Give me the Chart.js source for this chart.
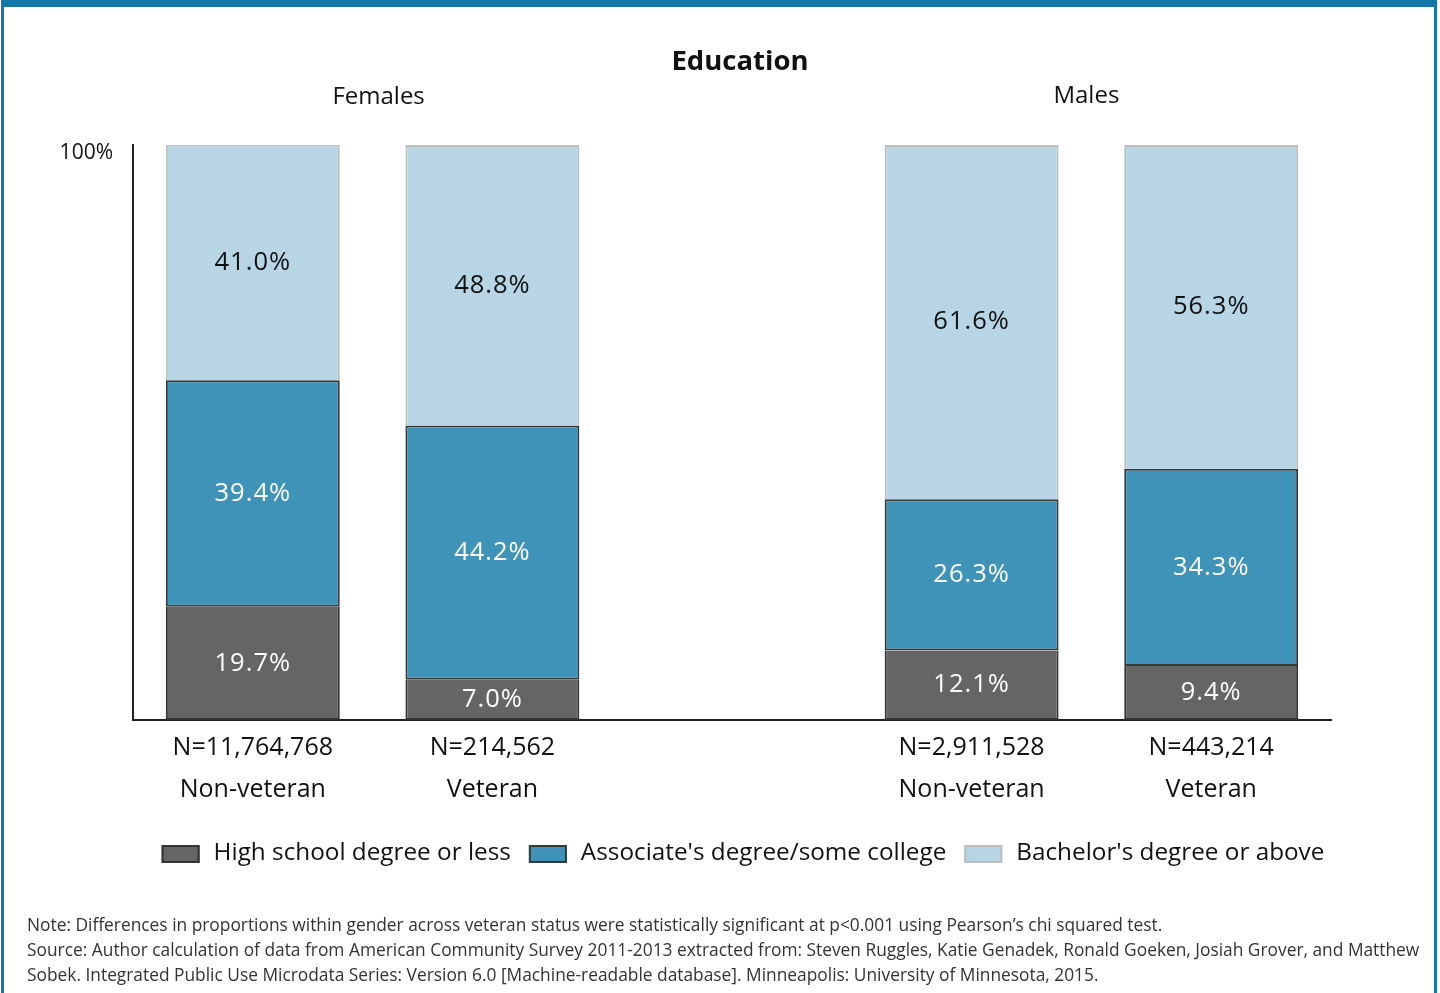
<!DOCTYPE html>
<html>
<head>
<meta charset="utf-8">
<title>Education</title>
<script src="https://cdn.jsdelivr.net/npm/chart.js@4/dist/chart.umd.min.js"></script>
<style>
  body { margin: 0; background: #fff; }
  #wrap { position: relative; width: 1440px; height: 993px; overflow: hidden; }
  #chartEducation { position: absolute; left: 0; top: 0; }
  #frame {
    position: absolute; left: 1px; top: 0; width: 1436px; height: 993px;
    border-top: 7px solid #1477aa; border-left: 3px solid #1477aa; border-right: 3px solid #1477aa;
    box-sizing: border-box; pointer-events: none;
  }
  .note { position: absolute; left: 27px; font-family: 'Open Sans', sans-serif; font-size: 17.35px; color: #333; white-space: nowrap; }
</style>
</head>
<body>
<div id="wrap">
  <canvas id="chartEducation" width="1440" height="993"></canvas>
  <div class="note" style="top:912px">Note: Differences in proportions within gender across veteran status were statistically significant at p&lt;0.001 using Pearson’s chi squared test.</div>
  <div class="note" style="top:937px">Source: Author calculation of data from American Community Survey 2011-2013 extracted from: Steven Ruggles, Katie Genadek, Ronald Goeken, Josiah Grover, and Matthew</div>
  <div class="note" style="top:962px">Sobek. Integrated Public Use Microdata Series: Version 6.0 [Machine-readable database]. Minneapolis: University of Minnesota, 2015.</div>
  <div id="frame"></div>
</div>
<script>
// categories (slot 2 is the gap between the two gender groups)
const groups = ['Females', 'Males'];
const status = ['Non-veteran', 'Veteran', '', 'Non-veteran', 'Veteran'];
const counts = ['N=11,764,768', 'N=214,562', '', 'N=2,911,528', 'N=443,214'];

// percentages by education level
const highSchool = [19.7, 7.0, null, 12.1, 9.4];
const associate = [39.4, 44.2, null, 26.3, 34.3];
const bachelor = [41.0, 48.8, null, 61.6, 56.3];

const yMax = 100;

const FONT = '"Open Sans", sans-serif';

// value labels inside each stacked segment
const segmentLabels = {
  id: 'segmentLabels',
  afterDatasetsDraw(chart) {
    const ctx = chart.ctx;
    ctx.save();
    ctx.font = '25.5px ' + FONT;
    ctx.letterSpacing = '1px';
    ctx.textAlign = 'center';
    ctx.textBaseline = 'middle';
    chart.data.datasets.forEach((ds, di) => {
      chart.getDatasetMeta(di).data.forEach((bar, i) => {
        const v = ds.data[i];
        if (v == null) return;
        ctx.fillStyle = ds.labelColor;
        ctx.fillText(v.toFixed(1) + '%', bar.x, (bar.y + bar.base) / 2);
      });
    });
    ctx.restore();
  }
};

// title, group headings and legend
const headings = {
  id: 'headings',
  afterDraw(chart) {
    const ctx = chart.ctx;
    const x = chart.scales.x;
    ctx.save();
    ctx.fillStyle = '#111';
    ctx.textAlign = 'center';
    ctx.textBaseline = 'middle';
    ctx.font = 'bold 27.5px ' + FONT;
    ctx.fillText('Education', 740, 62);

    ctx.font = '24px ' + FONT;
    ctx.fillText(groups[0], x.getPixelForValue(0.5) + 6, 97);
    ctx.fillText(groups[1], x.getPixelForValue(3.5) - 5, 96);

    // legend
    ctx.font = '24.3px ' + FONT;
    ctx.textAlign = 'left';
    const boxW = 38, boxH = 18, gap = 14, itemGap = 18;
    const items = chart.data.datasets.map(ds => ({
      ds, w: boxW + gap + ctx.measureText(ds.label).width
    }));
    const total = items.reduce((s, it) => s + it.w, 0) + itemGap * (items.length - 1);
    let lx = 743 - total / 2;
    const ly = 854;
    items.forEach(it => {
      ctx.fillStyle = it.ds.backgroundColor;
      ctx.fillRect(lx, ly - boxH / 2, boxW, boxH);
      ctx.strokeStyle = it.ds.borderColor;
      ctx.lineWidth = 2;
      ctx.strokeRect(lx + 1, ly - boxH / 2 + 1, boxW - 2, boxH - 2);
      ctx.fillStyle = '#111';
      ctx.fillText(it.ds.label, lx + boxW + gap, ly - 1);
      lx += it.w + itemGap;
    });
    ctx.restore();
  }
};

const chartEducation = document.getElementById('chartEducation');

new Chart(chartEducation, {
  type: 'bar',
  data: {
    labels: counts.map((n, i) => n ? [n, status[i]] : ''),
    datasets: [{
      label: 'High school degree or less',
      data: highSchool,
      backgroundColor: '#656565',
      borderColor: '#333333',
      borderSkipped: 'top',
      labelColor: '#ffffff'
    }, {
      label: "Associate's degree/some college",
      data: associate,
      backgroundColor: '#3f92b8',
      borderColor: '#383838',
      borderSkipped: false,
      labelColor: '#ffffff'
    }, {
      label: "Bachelor's degree or above",
      data: bachelor,
      backgroundColor: '#b7d5e5',
      borderColor: '#bdbdbd',
      borderSkipped: 'bottom',
      labelColor: '#111111'
    }]
  },
  options: {
    responsive: false,
    animation: false,
    layout: { padding: { top: 145, left: 0, right: 109, bottom: 173 } },
    datasets: {
      bar: {
        barPercentage: 0.726,
        categoryPercentage: 1,
        borderWidth: 2
      }
    },
    plugins: {
      legend: { display: false },
      tooltip: { enabled: false }
    },
    scales: {
      x: {
        stacked: true,
        grid: { display: false, drawTicks: false },
        border: { display: true, color: '#222', width: 2 },
        ticks: {
          color: '#111',
          padding: 7,
          maxRotation: 0,
          autoSkip: false,
          font: { family: FONT, size: 25, lineHeight: 1.68 }
        },
        afterFit(scale) { scale.height = 100; }
      },
      y: {
        stacked: true,
        min: 0,
        max: yMax,
        grid: { display: false, drawTicks: false },
        border: { display: true, color: '#222', width: 2 },
        ticks: {
          stepSize: yMax,
          color: '#111',
          padding: 20,
          labelOffset: 8,
          font: { family: FONT, size: 21 },
          callback: v => v === yMax ? '100%' : ''
        },
        afterFit(scale) { scale.width = 133; }
      }
    }
  },
  plugins: [segmentLabels, headings]
});
</script>
</body>
</html>
